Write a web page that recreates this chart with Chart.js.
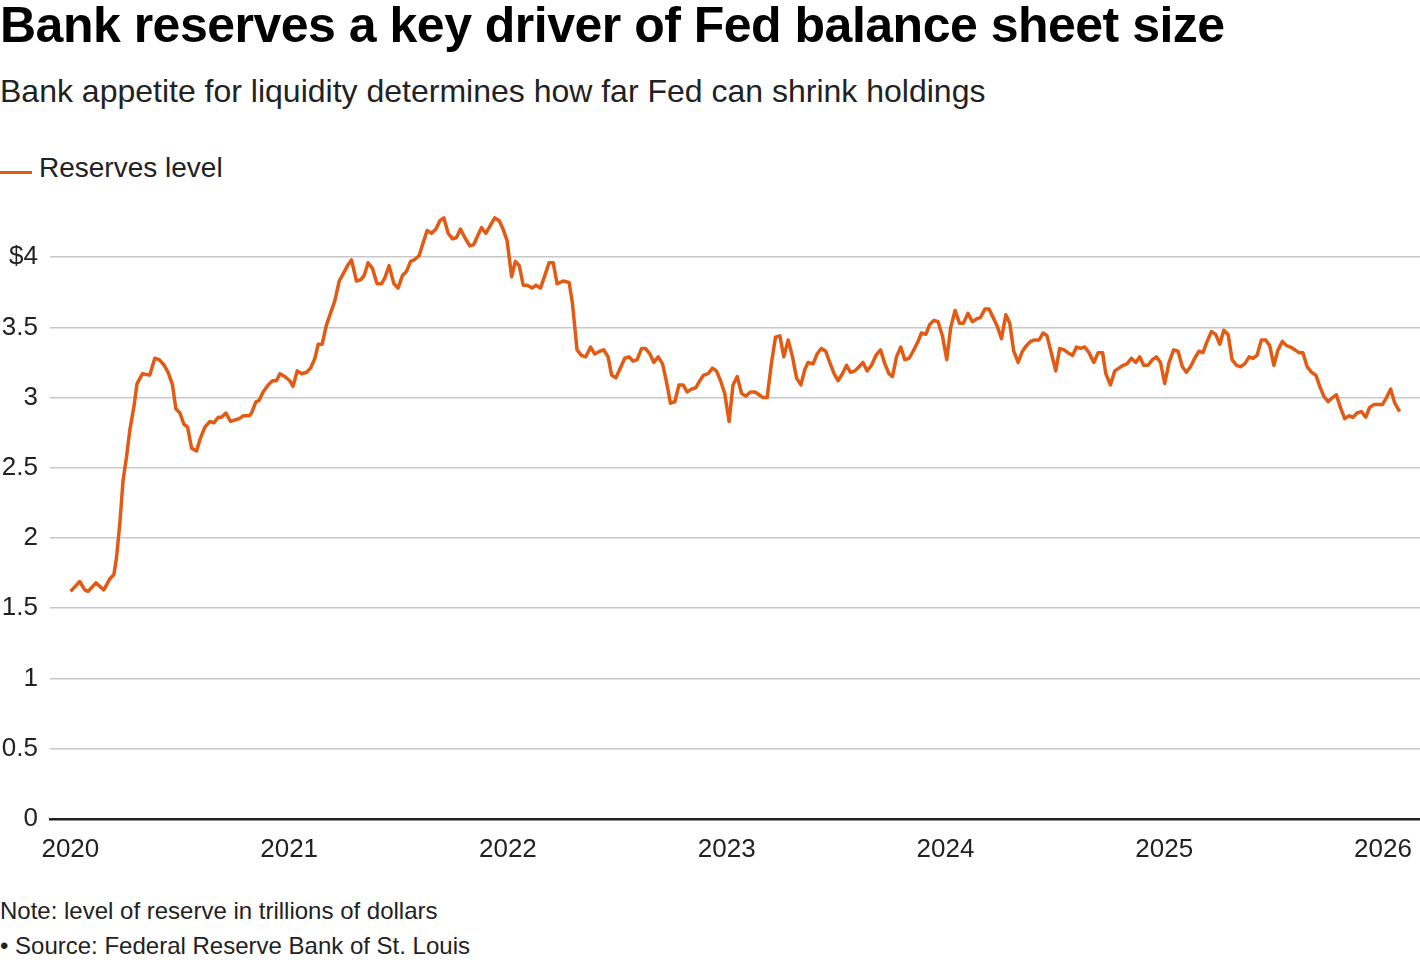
<!DOCTYPE html>
<html>
<head>
<meta charset="utf-8">
<script src="https://cdn.jsdelivr.net/npm/chart.js@4/dist/chart.umd.min.js"></script>
<style>
  body { margin: 0; background: #fff; font-family: 'Liberation Sans', Arial, Helvetica, sans-serif; color: #111; }
  .page { position: relative; width: 1420px; height: 964px; overflow: hidden; }
  .title { position: absolute; left: 0; top: 0; font-size: 50px; line-height: 50px; font-weight: bold; letter-spacing: -0.5px; color: #000; white-space: nowrap; }
  .subtitle { position: absolute; left: 0; top: 75px; font-size: 32px; line-height: 32px; color: #222; white-space: nowrap; }
  .legend { position: absolute; left: 0; top: 154px; font-size: 28px; line-height: 28px; color: #222; white-space: nowrap; }
  .legend .swatch { position: absolute; left: 0; top: 17px; width: 32px; height: 3px; background: #e35a12; }
  .legend .label { position: absolute; left: 39px; top: 0; }
  .note { position: absolute; left: 0; font-size: 24px; line-height: 24px; color: #222; white-space: nowrap; }
  .chart-box { position: absolute; left: 0; top: 190px; width: 1420px; height: 696px; }
</style>
</head>
<body>
<div class="page">
  <div class="title">Bank reserves a key driver of Fed balance sheet size</div>
  <div class="subtitle">Bank appetite for liquidity determines how far Fed can shrink holdings</div>
  <div class="legend"><span class="swatch"></span><span class="label">Reserves level</span></div>
  <div class="chart-box"><canvas id="reservesChart"></canvas></div>
  <div class="note" style="top: 899px;">Note: level of reserve in trillions of dollars</div>
  <div class="note" style="top: 934px;">• Source: Federal Reserve Bank of St. Louis</div>
</div>
<script>
// dates as decimal years, values in trillions of dollars
const dates = [
  2020.001, 2020.043, 2020.066, 2020.081, 2020.117, 2020.153, 2020.181, 2020.199, 2020.211, 2020.226,
  2020.241, 2020.257, 2020.272, 2020.290, 2020.305, 2020.330, 2020.363, 2020.386, 2020.406, 2020.429,
  2020.447, 2020.467, 2020.482, 2020.501, 2020.519, 2020.536, 2020.554, 2020.577, 2020.592, 2020.615,
  2020.638, 2020.656, 2020.676, 2020.691, 2020.711, 2020.732, 2020.752, 2020.772, 2020.790, 2020.817,
  2020.828, 2020.848, 2020.863, 2020.881, 2020.904, 2020.924, 2020.942, 2020.958, 2020.980, 2021.003,
  2021.018, 2021.037, 2021.057, 2021.080, 2021.098, 2021.118, 2021.133, 2021.151, 2021.171, 2021.189,
  2021.209, 2021.229, 2021.250, 2021.267, 2021.285, 2021.308, 2021.328, 2021.343, 2021.361, 2021.381,
  2021.402, 2021.422, 2021.437, 2021.457, 2021.479, 2021.498, 2021.518, 2021.537, 2021.555, 2021.571,
  2021.594, 2021.612, 2021.631, 2021.651, 2021.671, 2021.689, 2021.707, 2021.727, 2021.747, 2021.765,
  2021.783, 2021.803, 2021.826, 2021.844, 2021.864, 2021.879, 2021.899, 2021.921, 2021.940, 2021.960,
  2021.978, 2021.996, 2022.017, 2022.034, 2022.052, 2022.070, 2022.088, 2022.111, 2022.128, 2022.149,
  2022.169, 2022.188, 2022.207, 2022.225, 2022.252, 2022.280, 2022.295, 2022.316, 2022.336, 2022.356,
  2022.378, 2022.397, 2022.420, 2022.438, 2022.458, 2022.474, 2022.493, 2022.511, 2022.534, 2022.554,
  2022.572, 2022.591, 2022.611, 2022.629, 2022.649, 2022.667, 2022.687, 2022.707, 2022.725, 2022.743,
  2022.763, 2022.782, 2022.801, 2022.819, 2022.839, 2022.859, 2022.877, 2022.895, 2022.915, 2022.935,
  2022.953, 2022.972, 2022.991, 2023.011, 2023.029, 2023.048, 2023.068, 2023.087, 2023.109, 2023.129,
  2023.148, 2023.166, 2023.185, 2023.205, 2023.223, 2023.243, 2023.261, 2023.281, 2023.301, 2023.319,
  2023.339, 2023.357, 2023.372, 2023.395, 2023.413, 2023.433, 2023.453, 2023.471, 2023.491, 2023.509,
  2023.529, 2023.548, 2023.566, 2023.586, 2023.605, 2023.623, 2023.642, 2023.662, 2023.682, 2023.703,
  2023.723, 2023.742, 2023.758, 2023.776, 2023.796, 2023.814, 2023.834, 2023.852, 2023.875, 2023.890,
  2023.910, 2023.928, 2023.948, 2023.966, 2023.986, 2024.006, 2024.024, 2024.044, 2024.064, 2024.082,
  2024.103, 2024.123, 2024.142, 2024.160, 2024.180, 2024.199, 2024.218, 2024.236, 2024.256, 2024.276,
  2024.294, 2024.312, 2024.332, 2024.352, 2024.370, 2024.389, 2024.408, 2024.428, 2024.446, 2024.464,
  2024.485, 2024.504, 2024.522, 2024.542, 2024.560, 2024.581, 2024.599, 2024.617, 2024.637, 2024.656,
  2024.678, 2024.698, 2024.718, 2024.733, 2024.754, 2024.774, 2024.793, 2024.812, 2024.830, 2024.850,
  2024.870, 2024.888, 2024.906, 2024.926, 2024.946, 2024.964, 2024.983, 2025.002, 2025.022, 2025.043,
  2025.063, 2025.083, 2025.101, 2025.120, 2025.139, 2025.159, 2025.177, 2025.196, 2025.216, 2025.235,
  2025.254, 2025.272, 2025.292, 2025.310, 2025.330, 2025.348, 2025.368, 2025.388, 2025.406, 2025.424,
  2025.444, 2025.464, 2025.482, 2025.501, 2025.520, 2025.540, 2025.559, 2025.577, 2025.597, 2025.616,
  2025.634, 2025.653, 2025.673, 2025.693, 2025.711, 2025.729, 2025.749, 2025.769, 2025.787, 2025.805,
  2025.825, 2025.845, 2025.863, 2025.881, 2025.901, 2025.921, 2025.939, 2025.958, 2025.977, 2025.997,
  2026.016, 2026.035, 2026.054, 2026.076
];
const reserves = [
  1.62, 1.69, 1.63, 1.62, 1.68, 1.63, 1.71, 1.74, 1.86, 2.10,
  2.41, 2.58, 2.77, 2.93, 3.10, 3.17, 3.16, 3.28, 3.27, 3.23,
  3.18, 3.09, 2.92, 2.89, 2.81, 2.79, 2.64, 2.62, 2.70, 2.79,
  2.83, 2.82, 2.86, 2.86, 2.89, 2.83, 2.84, 2.85, 2.87, 2.87,
  2.89, 2.97, 2.98, 3.04, 3.09, 3.12, 3.12, 3.17, 3.15, 3.12,
  3.08, 3.19, 3.17, 3.18, 3.21, 3.28, 3.38, 3.38, 3.52, 3.60,
  3.69, 3.83, 3.89, 3.94, 3.98, 3.83, 3.84, 3.87, 3.96, 3.92,
  3.81, 3.81, 3.85, 3.94, 3.81, 3.78, 3.87, 3.90, 3.97, 3.98,
  4.01, 4.10, 4.19, 4.17, 4.20, 4.26, 4.28, 4.17, 4.13, 4.14,
  4.20, 4.14, 4.08, 4.09, 4.16, 4.21, 4.17, 4.23, 4.28, 4.26,
  4.20, 4.12, 3.86, 3.97, 3.94, 3.80, 3.80, 3.78, 3.80, 3.78,
  3.87, 3.96, 3.96, 3.81, 3.83, 3.82, 3.67, 3.34, 3.30, 3.29,
  3.36, 3.31, 3.33, 3.34, 3.29, 3.16, 3.14, 3.20, 3.28, 3.29,
  3.26, 3.27, 3.35, 3.35, 3.31, 3.25, 3.29, 3.24, 3.11, 2.96,
  2.97, 3.09, 3.09, 3.04, 3.06, 3.07, 3.12, 3.16, 3.17, 3.21,
  3.19, 3.12, 3.03, 2.83, 3.09, 3.15, 3.03, 3.01, 3.04, 3.04,
  3.02, 3.00, 3.00, 3.25, 3.43, 3.44, 3.29, 3.41, 3.29, 3.14,
  3.09, 3.20, 3.25, 3.24, 3.31, 3.35, 3.33, 3.25, 3.17, 3.12,
  3.17, 3.23, 3.18, 3.19, 3.22, 3.25, 3.19, 3.23, 3.30, 3.34,
  3.24, 3.17, 3.15, 3.29, 3.36, 3.27, 3.28, 3.33, 3.40, 3.46,
  3.45, 3.52, 3.55, 3.54, 3.44, 3.27, 3.50, 3.62, 3.53, 3.53,
  3.60, 3.54, 3.56, 3.57, 3.63, 3.63, 3.57, 3.51, 3.42, 3.59,
  3.53, 3.33, 3.25, 3.33, 3.37, 3.40, 3.41, 3.41, 3.46, 3.44,
  3.31, 3.19, 3.35, 3.34, 3.32, 3.30, 3.36, 3.35, 3.36, 3.32,
  3.25, 3.32, 3.32, 3.17, 3.09, 3.19, 3.21, 3.23, 3.24, 3.28,
  3.25, 3.29, 3.23, 3.23, 3.27, 3.29, 3.25, 3.10, 3.25, 3.34,
  3.33, 3.22, 3.18, 3.22, 3.28, 3.33, 3.32, 3.40, 3.47, 3.45,
  3.38, 3.48, 3.45, 3.27, 3.23, 3.22, 3.24, 3.29, 3.28, 3.30,
  3.41, 3.41, 3.37, 3.23, 3.34, 3.40, 3.37, 3.36, 3.34, 3.32,
  3.32, 3.22, 3.18, 3.16, 3.08, 3.01, 2.97, 3.00, 3.02, 2.93,
  2.85, 2.87, 2.86, 2.89, 2.90, 2.86, 2.93, 2.95, 2.95, 2.95,
  3.00, 3.06, 2.96, 2.90
];
const yearTicks = [2020, 2021, 2022, 2023, 2024, 2025, 2026];
const valueTicks = [0, 0.5, 1, 1.5, 2, 2.5, 3, 3.5, 4];

const lineColor = '#e35a12';

Chart.defaults.font.family = "'Liberation Sans', Arial, Helvetica, sans-serif";
Chart.defaults.color = '#222';

const points = dates.map((d, i) => ({ x: d, y: reserves[i] }));

new Chart(document.getElementById('reservesChart').getContext('2d'), {
    type: 'line',
    data: {
        datasets: [{
            label: 'Reserves level',
            data: points,
            borderColor: lineColor,
            backgroundColor: lineColor,
            borderWidth: 3.5,
            borderJoinStyle: 'round',
            pointRadius: 0,
            tension: 0
        }]
    },
    options: {
        responsive: true,
        maintainAspectRatio: false,
        animation: false,
        layout: { padding: { top: 11, right: 0, bottom: 6, left: 0 } },
        plugins: {
            legend: { display: false },
            tooltip: { enabled: false }
        },
        scales: {
            x: {
                type: 'linear',
                min: 2019.907,
                max: 2026.169,
                afterBuildTicks: axis => { axis.ticks = yearTicks.map(v => ({ value: v })); },
                afterFit: axis => { axis.paddingLeft = 0; axis.paddingRight = 0; },
                ticks: {
                    font: { size: 26 },
                    padding: 15,
                    autoSkip: false,
                    maxRotation: 0,
                    callback: v => String(v)
                },
                grid: { display: false, drawTicks: false },
                border: { display: true, color: '#222', width: 2.5 }
            },
            y: {
                min: 0,
                max: 4.4,
                afterBuildTicks: axis => { axis.ticks = valueTicks.map(v => ({ value: v })); },
                afterFit: axis => { axis.width = 50; axis.paddingTop = 0; axis.paddingBottom = 0; },
                ticks: {
                    font: { size: 26 },
                    padding: 12,
                    callback: v => (v === 4 ? '$4' : String(v))
                },
                grid: {
                    drawTicks: false,
                    color: ctx => (ctx.tick && ctx.tick.value === 0 ? 'rgba(0,0,0,0)' : '#c8c8c8'),
                    lineWidth: 1.5
                },
                border: { display: false }
            }
        }
    }
});
</script>
</body>
</html>
